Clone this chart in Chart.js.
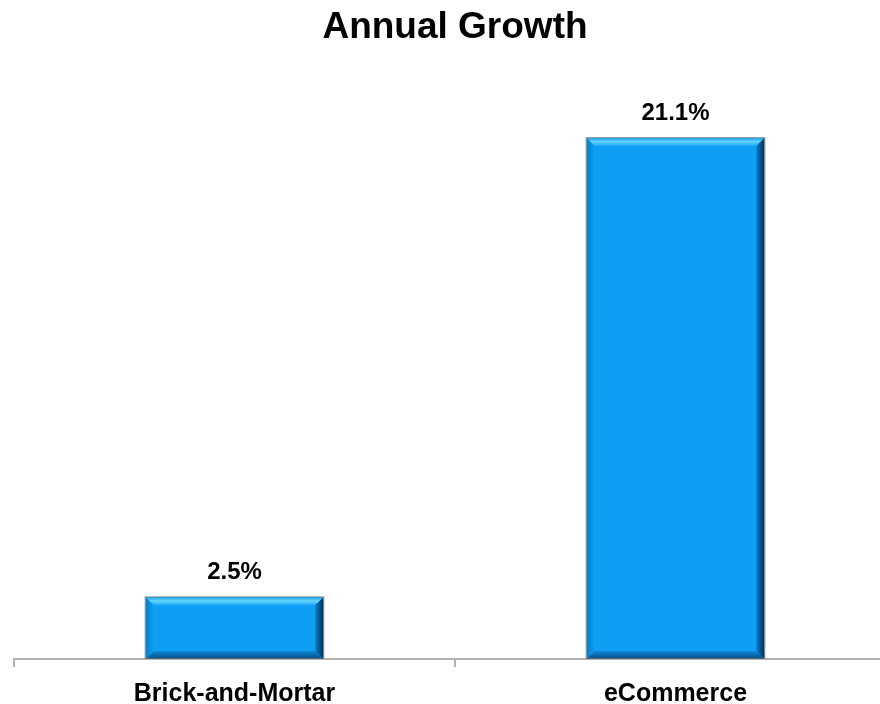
<!DOCTYPE html>
<html>
<head>
<meta charset="utf-8">
<script src="https://cdn.jsdelivr.net/npm/chart.js@4.4.1/dist/chart.umd.min.js"></script>
<style>
  html, body { margin: 0; padding: 0; background: #ffffff; overflow: hidden; }
  #wrap { width: 880px; height: 704px; overflow: hidden; position: relative; }
  canvas { display: block; }
</style>
</head>
<body>
<div id="wrap"><canvas id="c" width="900" height="721"></canvas></div>
<script>
const categories = ["Brick-and-Mortar", "eCommerce"];
const growthValues = [2.5, 21.1];
const valueLabels = ["2.5%", "21.1%"];
const chartTitle = "Annual Growth";

const FONT = "'Liberation Sans', Arial, Helvetica, sans-serif";

const bevelPlugin = {
  id: 'bevel',
  afterDatasetsDraw(chart) {
    const ctx = chart.ctx;
    const meta = chart.getDatasetMeta(0);
    meta.data.forEach((bar, i) => {
      const p = bar.getProps(['x', 'y', 'base', 'width'], true);
      const l = p.x - p.width / 2, r = p.x + p.width / 2;
      const t = Math.min(p.y, p.base), B = Math.max(p.y, p.base);
      const b = Math.min(8, (B - t) / 3);
      ctx.save();
      // top bevel
      let g = ctx.createLinearGradient(0, t, 0, t + b);
      g.addColorStop(0, '#1a9fea'); g.addColorStop(0.45, '#66d4ff'); g.addColorStop(1, '#1aa8f8');
      ctx.fillStyle = g;
      ctx.beginPath(); ctx.moveTo(l, t); ctx.lineTo(r, t); ctx.lineTo(r - b, t + b); ctx.lineTo(l + b, t + b); ctx.closePath(); ctx.fill();
      // bottom bevel
      g = ctx.createLinearGradient(0, B - b, 0, B);
      g.addColorStop(0, '#0a8ad8'); g.addColorStop(1, '#0a4a80');
      ctx.fillStyle = g;
      ctx.beginPath(); ctx.moveTo(l, B); ctx.lineTo(r, B); ctx.lineTo(r - b, B - b); ctx.lineTo(l + b, B - b); ctx.closePath(); ctx.fill();
      // left bevel
      g = ctx.createLinearGradient(l, 0, l + b, 0);
      g.addColorStop(0, '#0a7cc6'); g.addColorStop(1, '#0e9ff4');
      ctx.fillStyle = g;
      ctx.beginPath(); ctx.moveTo(l, t); ctx.lineTo(l + b, t + b); ctx.lineTo(l + b, B - b); ctx.lineTo(l, B); ctx.closePath(); ctx.fill();
      // right bevel
      g = ctx.createLinearGradient(r - b, 0, r, 0);
      g.addColorStop(0, '#0a7ccb'); g.addColorStop(1, '#062f55');
      ctx.fillStyle = g;
      ctx.beginPath(); ctx.moveTo(r, t); ctx.lineTo(r - b, t + b); ctx.lineTo(r - b, B - b); ctx.lineTo(r, B); ctx.closePath(); ctx.fill();
      // outline
      ctx.strokeStyle = 'rgba(120,120,120,0.7)';
      ctx.lineWidth = 1;
      ctx.strokeRect(l - 0.5, t - 0.5, r - l + 1, B - t);
      // value label
      ctx.fillStyle = '#000000';
      ctx.font = "bold 24px " + FONT;
      ctx.textAlign = 'center';
      ctx.textBaseline = 'middle';
      ctx.fillText(valueLabels[i], p.x, t - 25);
      ctx.restore();
    });
  }
};

new Chart(document.getElementById('c'), {
  type: 'bar',
  data: {
    labels: categories,
    datasets: [{
      data: growthValues,
      backgroundColor: '#0e9ff4',
      borderWidth: 0,
      barPercentage: 0.403,
      categoryPercentage: 1.0
    }]
  },
  options: {
    responsive: false,
    devicePixelRatio: 1,
    animation: false,
    layout: { padding: { left: 14, right: 4, top: 0, bottom: 0 } },
    plugins: {
      legend: { display: false },
      tooltip: { enabled: false },
      title: {
        display: true,
        text: chartTitle,
        color: '#000000',
        font: { family: FONT, size: 37, weight: 'bold' },
        padding: { top: 6, bottom: 16 }
      }
    },
    scales: {
      x: {
        grid: {
          display: true,
          drawOnChartArea: false,
          drawTicks: true,
          tickLength: 8,
          color: '#b3b3b3',
          lineWidth: 2,
          offset: true
        },
        border: { display: true, color: '#b3b3b3', width: 2 },
        ticks: {
          color: '#000000',
          font: { family: FONT, size: 25, weight: 'bold' },
          padding: 12,
          maxRotation: 0
        }
      },
      y: {
        display: false,
        min: 0,
        max: 24
      }
    }
  },
  plugins: [bevelPlugin]
});
</script>
</body>
</html>
